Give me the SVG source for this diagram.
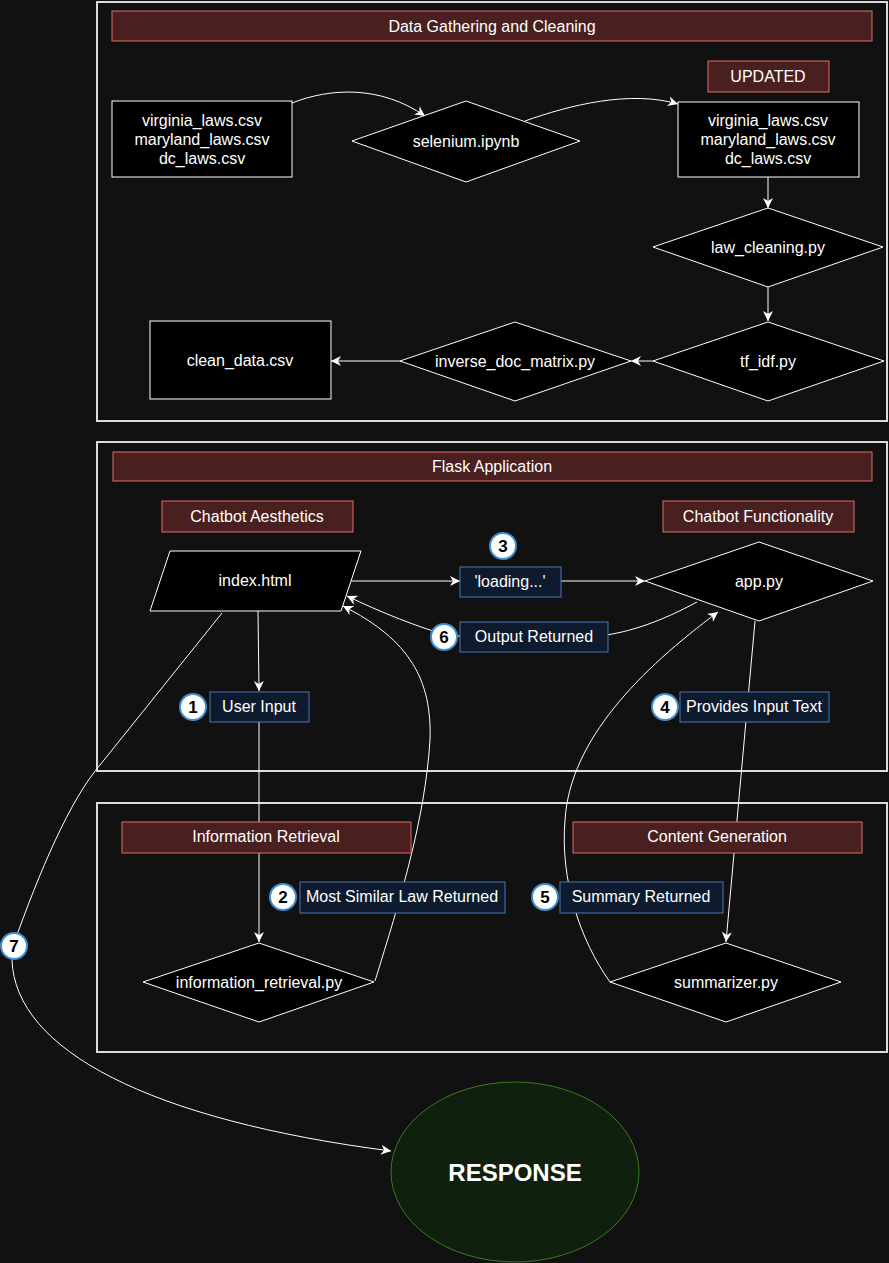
<svg xmlns="http://www.w3.org/2000/svg" width="889" height="1263" viewBox="0 0 889 1263">
<style>
text{font-family:"Liberation Sans",Arial,sans-serif;font-size:16px;fill:#ffffff;text-anchor:middle;dominant-baseline:central}
.cont{fill:none;stroke:#dcdcdc;stroke-width:2}
.title{fill:#4a1f1f;stroke:#e06c66;stroke-width:1}
.node{fill:#000000;stroke:#ffffff;stroke-width:1}
.lbl{fill:#0e1b2e;stroke:#4f76b0;stroke-width:1}
.num{fill:#ffffff;stroke:#3d8fd1;stroke-width:2}
.numt{fill:#000000;font-weight:bold;font-size:17px}
.edge{fill:none;stroke:#ffffff;stroke-width:1}
</style>
<defs>
<marker id="arr" markerUnits="userSpaceOnUse" markerWidth="12" markerHeight="12" refX="10" refY="5" orient="auto" viewBox="0 0 12 10">
<path d="M0,0 L10,5 L0,10 L3,5 z" fill="#ffffff"/>
</marker>
</defs>
<rect width="889" height="1263" fill="#111111"/>
<g id="containers">
<rect class="cont" x="97" y="2" width="790" height="419"/>
<rect class="cont" x="97" y="442" width="790" height="329"/>
<rect class="cont" x="97" y="803" width="790" height="249"/>
</g>
<g id="connectors">
<path class="edge" d="M292,103 C330,88 380,85 425,116" marker-end="url(#arr)"/>
<path class="edge" d="M525,121 C570,105 630,90 678,104" marker-end="url(#arr)"/>
<path class="edge" d="M768,177 L768,208" marker-end="url(#arr)"/>
<path class="edge" d="M768,287 L768,321" marker-end="url(#arr)"/>
<path class="edge" d="M653,361 L631,361" marker-end="url(#arr)"/>
<path class="edge" d="M400,361 L331,361" marker-end="url(#arr)"/>
<path class="edge" d="M351,581 L460,581" marker-end="url(#arr)"/>
<path class="edge" d="M561,581 L645,581" marker-end="url(#arr)"/>
<path class="edge" d="M258,611 L259,691" marker-end="url(#arr)"/>
<path class="edge" d="M259,722 L259,942" marker-end="url(#arr)"/>
<path class="edge" d="M755,621 L726,942" marker-end="url(#arr)"/>
<path class="edge" d="M697,602 C660,622 630,632 600,636 L450,636 C420,628 380,612 347,596" marker-end="url(#arr)"/>
<path class="edge" d="M375,981 C400,900 425,820 430,740 C432,680 410,640 343,606" marker-end="url(#arr)"/>
<path class="edge" d="M610,982 C580,940 560,880 565,820 C570,740 640,670 718,612" marker-end="url(#arr)"/>
<path class="edge" d="M222,613 L100,765 C70,800 40,870 13,946 C12,960 12,960 12,960 C15,1050 150,1120 391,1151" marker-end="url(#arr)"/>
</g>
<g id="title-data">
<rect class="title" x="112" y="11" width="760" height="30"/>
<text x="492" y="26">Data Gathering and Cleaning</text>
</g>
<g id="raw-csv">
<rect class="node" x="112" y="101" width="180" height="76"/>
<text x="202" y="120">virginia_laws.csv</text>
<text x="202" y="139">maryland_laws.csv</text>
<text x="202" y="158">dc_laws.csv</text>
</g>
<g id="selenium">
<polygon class="node" points="466,101 580,141 466,182 352,141"/>
<text x="466" y="141">selenium.ipynb</text>
</g>
<g id="updated">
<rect class="title" x="708" y="61" width="121" height="31"/>
<text x="768" y="76">UPDATED</text>
</g>
<g id="updated-csv">
<rect class="node" x="678" y="102" width="181" height="75"/>
<text x="768" y="120">virginia_laws.csv</text>
<text x="768" y="139">maryland_laws.csv</text>
<text x="768" y="158">dc_laws.csv</text>
</g>
<g id="law-cleaning">
<polygon class="node" points="768,208 883,247 768,287 653,247"/>
<text x="768" y="247">law_cleaning.py</text>
</g>
<g id="tf-idf">
<polygon class="node" points="768,322 884,361 768,401 653,361"/>
<text x="768" y="361">tf_idf.py</text>
</g>
<g id="inverse-doc">
<polygon class="node" points="515,322 631,361 515,401 400,361"/>
<text x="515" y="361">inverse_doc_matrix.py</text>
</g>
<g id="clean-data">
<rect class="node" x="150" y="321" width="181" height="78"/>
<text x="240" y="360">clean_data.csv</text>
</g>
<g id="title-flask">
<rect class="title" x="113" y="452" width="759" height="29"/>
<text x="492" y="466">Flask Application</text>
</g>
<g id="aesthetics">
<rect class="title" x="162" y="501" width="191" height="31"/>
<text x="257" y="516">Chatbot Aesthetics</text>
</g>
<g id="functionality">
<rect class="title" x="663" y="501" width="191" height="31"/>
<text x="758" y="516">Chatbot Functionality</text>
</g>
<g id="index-html">
<polygon class="node" points="170,551 361,551 341,611 150,611"/>
<text x="255" y="580">index.html</text>
</g>
<g id="app-py">
<polygon class="node" points="759,542 873,581 759,621 645,581"/>
<text x="759" y="581">app.py</text>
</g>
<g id="label-3">
<circle class="num" cx="503" cy="546" r="13"/>
<text class="numt" x="503" y="546">3</text>
<rect class="lbl" x="460" y="567" width="101" height="30"/>
<text x="510" y="581">'loading...'</text>
</g>
<g id="label-6">
<rect class="lbl" x="460" y="622" width="148" height="30"/>
<text x="534" y="636">Output Returned</text>
<circle class="num" cx="444" cy="637" r="13"/>
<text class="numt" x="444" y="637">6</text>
</g>
<g id="label-1">
<rect class="lbl" x="210" y="692" width="99" height="30"/>
<text x="259" y="706">User Input</text>
<circle class="num" cx="193" cy="707" r="13"/>
<text class="numt" x="193" y="707">1</text>
</g>
<g id="label-4">
<rect class="lbl" x="680" y="692" width="149" height="30"/>
<text x="754" y="706">Provides Input Text</text>
<circle class="num" cx="665" cy="707" r="13"/>
<text class="numt" x="665" y="707">4</text>
</g>
<g id="title-ir">
<rect class="title" x="122" y="822" width="289" height="31"/>
<text x="266" y="836">Information Retrieval</text>
</g>
<g id="title-cg">
<rect class="title" x="573" y="822" width="289" height="31"/>
<text x="717" y="836">Content Generation</text>
</g>
<g id="label-2">
<rect class="lbl" x="300" y="882" width="205" height="31"/>
<text x="402" y="896">Most Similar Law Returned</text>
<circle class="num" cx="283" cy="897" r="13"/>
<text class="numt" x="283" y="897">2</text>
</g>
<g id="label-5">
<rect class="lbl" x="560" y="882" width="163" height="31"/>
<text x="641" y="896">Summary Returned</text>
<circle class="num" cx="545" cy="897" r="13"/>
<text class="numt" x="545" y="897">5</text>
</g>
<g id="information-retrieval">
<polygon class="node" points="259,943 374,982 259,1022 143,982"/>
<text x="259" y="982">information_retrieval.py</text>
</g>
<g id="summarizer">
<polygon class="node" points="726,943 841,982 726,1022 610,982"/>
<text x="726" y="982">summarizer.py</text>
</g>
<g id="label-7">
<circle class="num" cx="14" cy="946" r="13"/>
<text class="numt" x="14" y="946">7</text>
</g>
<g id="response">
<ellipse cx="515" cy="1172" rx="124" ry="90" fill="#10200f" stroke="#3c7a1e" stroke-width="1"/>
<text x="515" y="1172" style="font-size:24px;font-weight:bold">RESPONSE</text>
</g>
</svg>
